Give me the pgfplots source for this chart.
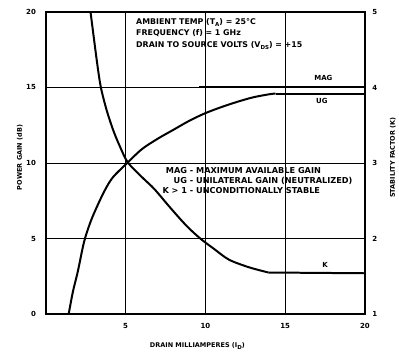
\documentclass[border=0pt]{standalone}
\usepackage{fontspec}
\setmainfont{DejaVu Sans}
\usepackage{pgfplots}
\pgfplotsset{compat=1.18}

% subscript helper for the labels
\newcommand{\sub}[1]{\raisebox{-0.45ex}{\fontsize{5.5}{6}\selectfont #1}}

\begin{document}
\begin{tikzpicture}[font=\fontsize{7}{8.5}\selectfont\bfseries]
\pgfplotsset{
  every axis/.append style={
    scale only axis, width=320pt, height=303pt,
    xmin=0, xmax=20,
    major tick length=0pt,
    /pgf/number format/assume math mode=true,
    ticklabel style={font=\fontsize{7}{8}\selectfont\bfseries},
    axis line style={line width=2.2pt},
  },
}
% power gain (dB) on the left axis
\begin{axis}[
  ymin=0, ymax=20,
  xtick={5,10,15,20}, ytick={0,5,10,15,20},
  grid=major, grid style={black, line width=0.7pt},
  yticklabel style={xshift=-6.5pt},
  xticklabel style={yshift=-6pt},
]
% UG - unilateral gain (neutralized)
\addplot[black, line width=2pt, smooth] coordinates {
  (1.43,0) (1.7,1.5) (2.0,2.8) (2.4,4.8) (2.8,6.1) (3.2,7.1) (3.7,8.2)
  (4.2,9.05) (5.1,10.0) (6,10.9) (7,11.6) (8,12.2) (9,12.8) (10,13.3)
  (11,13.7) (12,14.05) (13,14.35) (14,14.55) (14.4,14.6)
};
\addplot[black, line width=2pt] coordinates {(14.4,14.6) (20,14.6)};
% MAG - maximum available gain
\addplot[black, line width=2pt] coordinates {(9.6,15) (20,15)};

\node[anchor=center] at (axis cs:17.4,15.6) {MAG};
\node[anchor=center] at (axis cs:17.3,14.1) {UG};

\node[anchor=north west, align=left, inner sep=0pt,
      font=\fontsize{7.9}{11.5}\selectfont\bfseries]
  at (axis cs:5.65,19.6)
  {AMBIENT TEMP (T\sub{A}) = 25\textdegree C\\
   FREQUENCY (f) = 1 GHz\\
   DRAIN TO SOURCE VOLTS (V\sub{DS}) = +15};

\node[anchor=north west, inner sep=0pt,
      font=\fontsize{8.2}{10}\selectfont\bfseries]
  at (axis cs:7.3,9.75)
  {\begin{tabular}{@{}r@{ - }l@{}}
     MAG & MAXIMUM AVAILABLE GAIN\\
     UG & UNILATERAL GAIN (NEUTRALIZED)\\
     K > 1 & UNCONDITIONALLY STABLE
   \end{tabular}};
\end{axis}

% stability factor K on the right axis
\begin{axis}[
  ymin=1, ymax=5, ytick={1,2,3,4,5},
  axis x line=none, axis y line*=right,
  yticklabel style={xshift=4pt},
]
\addplot[black, line width=2pt, smooth] coordinates {
  (2.80,5.0) (3.21,4.33) (3.45,4.0) (3.81,3.70) (4.23,3.43) (4.64,3.22)
  (5.13,3.01) (5.99,2.82) (6.78,2.66) (7.63,2.45) (8.29,2.29) (8.95,2.14)
  (9.74,1.99) (10.56,1.86) (11.48,1.72) (12.72,1.62) (13.95,1.55)
};
\addplot[black, line width=2pt] coordinates {(13.95,1.55) (20,1.54)};
\node[anchor=center] at (axis cs:17.5,1.65) {K};
\end{axis}

% axis titles
\node[rotate=90, font=\fontsize{6.5}{8}\selectfont\bfseries] at (-26pt,157pt) {POWER GAIN (dB)};
\node[rotate=90, font=\fontsize{6.5}{8}\selectfont\bfseries] at (348pt,157pt) {STABILITY FACTOR (K)};
\node[font=\fontsize{6.5}{8}\selectfont\bfseries] at (152pt,-32pt) {DRAIN MILLIAMPERES (I\sub{D})};

\path[use as bounding box] (-46pt,-38pt) rectangle (353pt,315pt);
\end{tikzpicture}
\end{document}
